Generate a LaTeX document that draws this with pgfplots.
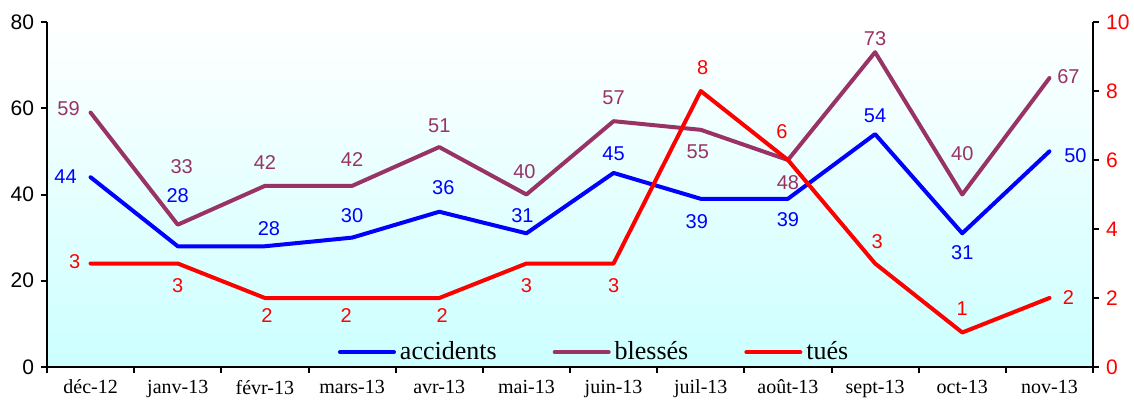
\documentclass[border=0pt]{standalone}
\usepackage{pgfplots}
\usepackage{pgfplotstable}
\pgfplotsset{compat=1.18}
\usepackage{fontspec}
\setmainfont{Liberation Serif}
\newfontfamily\arial{Liberation Sans}
\definecolor{acc}{RGB}{0,0,255}
\definecolor{bles}{RGB}{153,51,102}
\definecolor{tues}{RGB}{255,0,0}
\pgfplotsset{/pgf/number format/assume math mode=true}

\pgfplotstableread{
x y dx dy
0 44 -12.5 0.5
1 28 0 25.5
2 28 2 9
3 30 0 11
4 36 2 12
5 31 -2 9
6 45 0 9.5
7 39 -2 -11.5
8 39 0 -10.5
9 54 0 9
10 31 0 -9.5
11 50 13 -2
}\accidents

\pgfplotstableread{
x y dx dy
0 59 -11 2
1 33 2 29
2 42 0 11.5
3 42 0 13
4 51 0 10.5
5 40 -1 11.5
6 57 0 11.5
7 55 -1.5 -11
8 48 0 -11.5
9 73 0 7
10 40 0 20.5
11 67 9.5 0.5
}\blesses

\pgfplotstableread{
x y dx dy
0 3 -8 1
1 3 0 -11
2 2 1 -9
3 2 -3 -9
4 2 1.5 -9
5 3 0 -11
6 3 0 -11
7 8 1 11.5
8 6 -3 14
9 3 1 11
10 1 0 12
11 2 9.5 0
}\tues

\begin{document}
\begin{tikzpicture}
\pgfplotsset{
  common/.style={
    scale only axis, width=523pt, height=172.5pt,
    xmin=-0.5, xmax=11.5,
    clip=false,
    axis line style={-, black, line width=1pt},
    tick style={black, line width=1pt},
    tick align=outside,
    major tick length=3pt, minor tick length=3pt,
  },
  lbl/.style={
    nodes near coords,
    point meta=y,
    visualization depends on={\thisrow{dx} \as \dx},
    visualization depends on={\thisrow{dy} \as \dy},
    nodes near coords style={anchor=center, font=\arial\fontsize{10}{12}\selectfont, text=#1, xshift=\dx pt, yshift=\dy pt, inner sep=0pt},
  },
}
\begin{axis}[common,
  ymin=0, ymax=80,
  axis x line*=bottom, axis y line*=left,
  axis background/.style={shade, top color=white, bottom color=cyan!20},
  xtick={0,...,11},
  xticklabels={déc-12,janv-13,févr-13,mars-13,avr-13,mai-13,juin-13,juil-13,août-13,sept-13,oct-13,nov-13},
  major x tick style={draw=none},
  minor xtick={-0.5,0.5,...,11.5},
  xticklabel style={font=\rmfamily\fontsize{10}{12}\selectfont, text=black},
  ytick={0,20,...,80},
  yticklabel style={font=\arial\fontsize{10.5}{12}\selectfont, text=black},
]
\coordinate (BL) at (rel axis cs:0,0);
\coordinate (TR) at (rel axis cs:1,1);
\addplot[acc, line width=2pt, line cap=round, line join=round, lbl=acc] table[x=x,y=y] {\accidents};
\addplot[bles, line width=2pt, line cap=round, line join=round, lbl=bles] table[x=x,y=y] {\blesses};
\end{axis}
\begin{axis}[common,
  ymin=0, ymax=10,
  axis x line=none, axis y line*=right,
  ytick={0,2,...,10},
  yticklabel style={font=\arial\fontsize{10.5}{12}\selectfont, text=tues},
  legend columns=3,
  legend style={at={(0.524,0.043)}, anchor=center, draw=none, fill=none,
    font=\rmfamily\fontsize{13}{15}\selectfont,
    /tikz/every even column/.append style={column sep=26pt},
    inner sep=0pt},
  legend image code/.code={\draw[#1, line width=2pt, line cap=round] (0pt,0pt) -- (27pt,0pt);},
]
\addlegendimage{acc, line width=2pt}
\addlegendentry{accidents}
\addlegendimage{bles, line width=2pt}
\addlegendentry{blessés}
\addplot[tues, line width=2pt, line cap=round, line join=round, lbl=tues] table[x=x,y=y] {\tues};
\addlegendentry{tués}
\end{axis}
\pgfresetboundingbox
\useasboundingbox ([xshift=-23.5pt,yshift=-20pt]BL) rectangle ([xshift=20.5pt,yshift=11pt]TR);
\end{tikzpicture}
\end{document}
